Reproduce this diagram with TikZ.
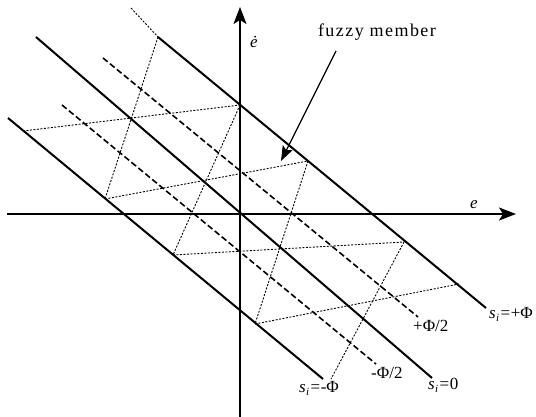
\documentclass[tikz,border=0pt]{standalone}
\usepackage{fontspec}
\setmainfont{Liberation Serif}
\newfontfamily\spacedfont[LetterSpace=8]{Liberation Serif}
\usetikzlibrary{arrows.meta}
\newcommand\sisub{\textit{s}\kern0.3pt\raisebox{-3.5pt}{\fontsize{11}{11}\selectfont\textit{i}}\kern1pt}
\newcommand\eqsign{\kern0.5pt=\kern0.5pt}
\begin{document}
\begin{tikzpicture}[x=1pt,y=-1pt,
  axis/.style={line width=2pt,-{Stealth[length=17pt,width=13pt,inset=4pt]}},
  solidline/.style={line width=2pt},
  dashline/.style={line width=1.6pt,dash pattern=on 6pt off 3pt},
  dotline/.style={line width=0.9pt,dash pattern=on 2pt off 1.5pt},
  lbl/.style={inner sep=0pt,anchor=base west,font=\fontsize{17}{17}\selectfont},
  pointer/.style={line width=1.2pt,-{Stealth[length=15pt,width=11pt,inset=3pt]}}]
\useasboundingbox (0,0) rectangle (536,417);
% axes
\coordinate (vb) at (240,417);
\coordinate (vt) at (240,7);
\coordinate (hl) at (7,214);
\coordinate (hr) at (516,214);
\draw[axis] (vb) -- (vt);
\draw[axis] (hl) -- (hr);
% sliding lines
\coordinate (spA) at (158,37);  \coordinate (spB) at (486,308);
\coordinate (s0A) at (36,37);   \coordinate (s0B) at (432,378);
\coordinate (smA) at (8,118);   \coordinate (smB) at (323,379);
\coordinate (hpA) at (103,58);  \coordinate (hpB) at (418,317);
\coordinate (hmA) at (62,105);  \coordinate (hmB) at (376,364);
\draw[solidline] (spA) -- (spB);
\draw[solidline] (s0A) -- (s0B);
\draw[solidline] (smA) -- (smB);
\draw[dashline] (hpA) -- (hpB);
\draw[dashline] (hmA) -- (hmB);
% grid points
\coordinate (T0) at (131,8);
\coordinate (P1) at (158,37);
\coordinate (P2) at (240,105);
\coordinate (P3) at (308,161);
\coordinate (P4) at (404,242);
\coordinate (P5) at (459,284);
\coordinate (Q1) at (23,131);
\coordinate (Q2) at (105,199);
\coordinate (Q3) at (173,255);
\coordinate (Q4) at (255,324);
\coordinate (Q5) at (331,379);
\draw[dotline] (T0) -- (P1);
\draw[dotline] (Q1) -- (P2);
\draw[dotline] (Q2) -- (P3);
\draw[dotline] (Q3) -- (P4);
\draw[dotline] (Q4) -- (P5);
\draw[dotline] (P1) -- (Q2);
\draw[dotline] (P2) -- (Q3);
\draw[dotline] (P3) -- (Q4);
\draw[dotline] (P4) -- (Q5);
% labels
\node[lbl,anchor=base] (edot) at (254,48) {\textit{ė}};
\node[lbl,anchor=base] (elab) at (474,208) {\textit{e}};
\node[inner sep=0pt,anchor=base,font=\spacedfont\fontsize{18}{18}\selectfont] (fm) at (377,37) {fuzzy member};
\coordinate (fmstart) at (336,51);
\coordinate (fmtip) at (281,161);
\draw[pointer] (fmstart) -- (fmtip);
\node[lbl] (lsp) at (489,318) {\sisub\eqsign+Φ};
\node[lbl] (lhp) at (413,331) {+Φ/2};
\node[lbl] (lhm) at (371,378) {-Φ/2};
\node[lbl] (ls0) at (428,389) {\sisub\eqsign0};
\node[lbl] (lsm) at (299,392) {\sisub\eqsign-Φ};
\end{tikzpicture}
\end{document}
